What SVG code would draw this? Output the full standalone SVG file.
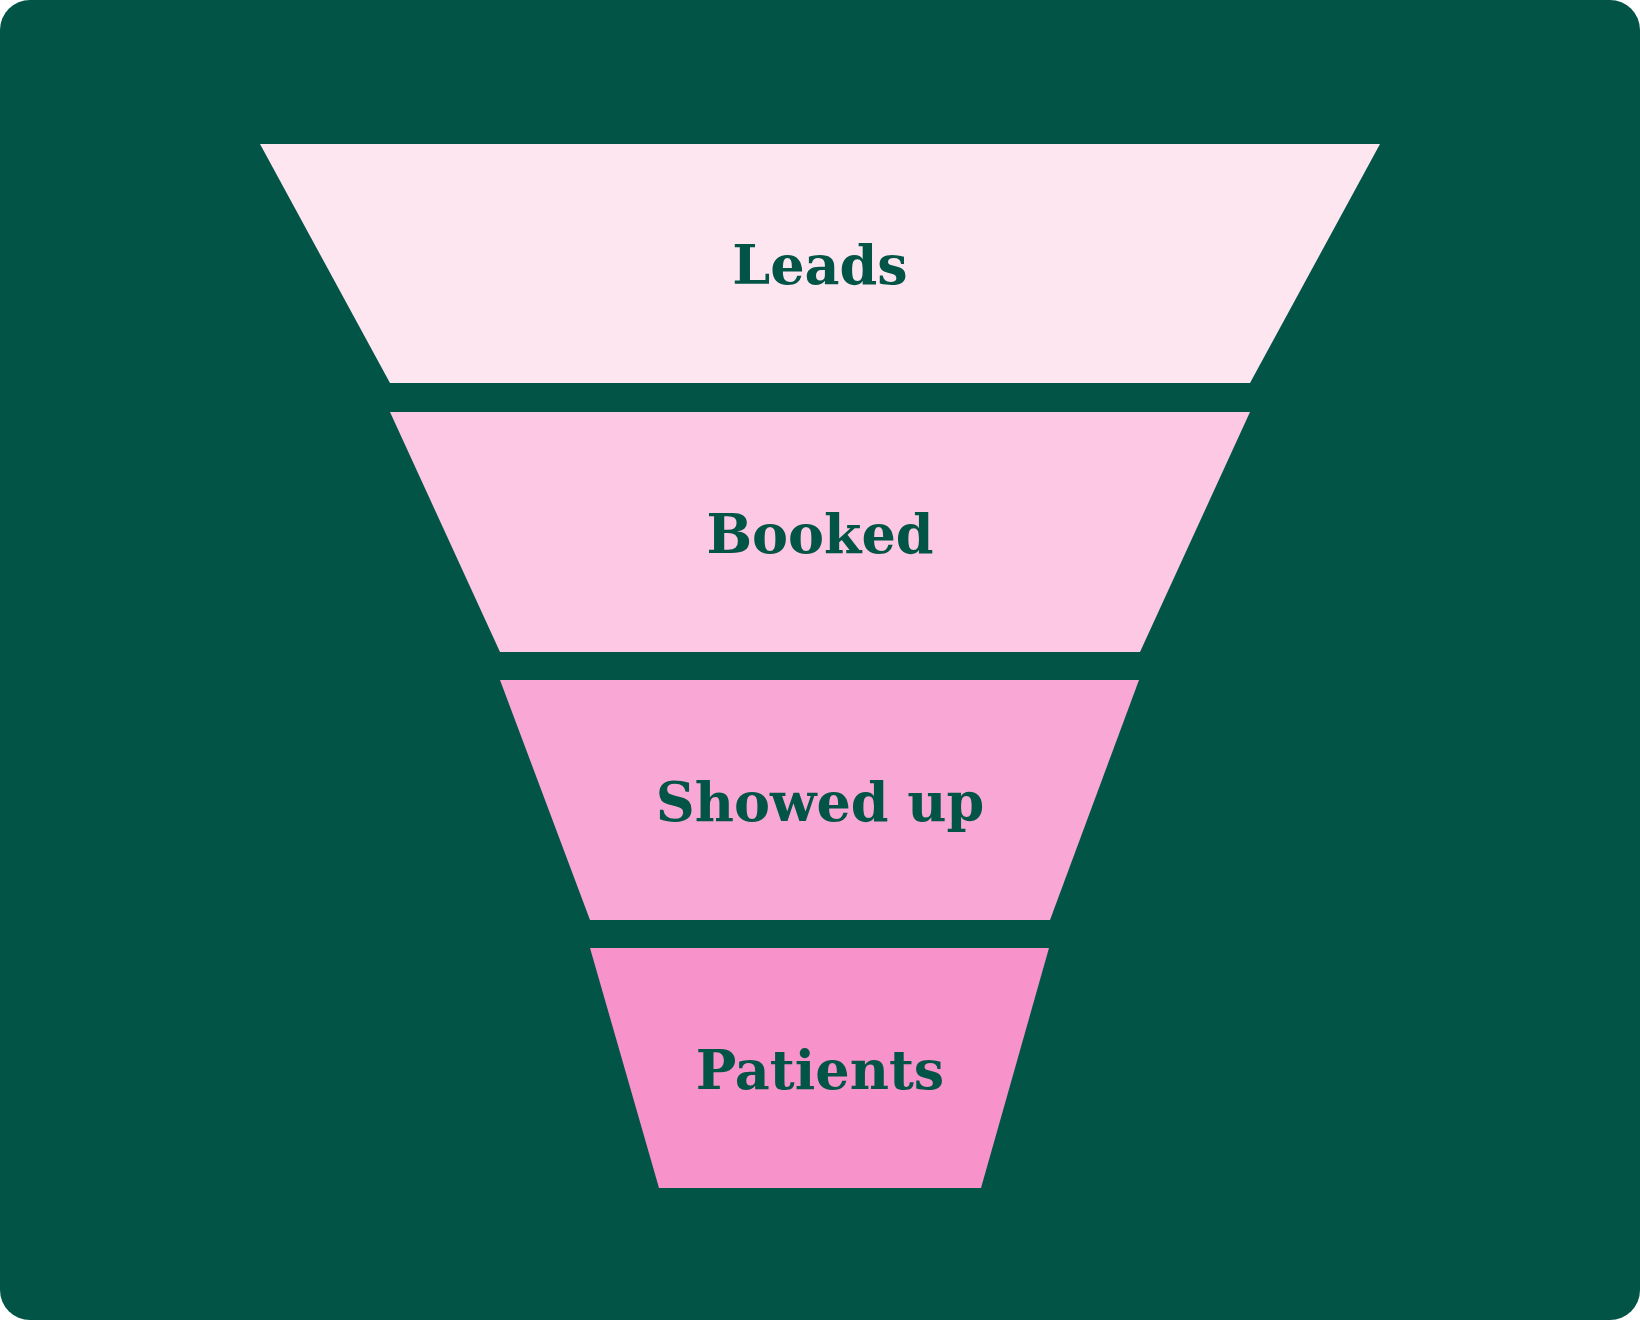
<svg xmlns="http://www.w3.org/2000/svg" width="1640" height="1320" viewBox="0 0 1640 1320">
<style>
.lbl{font-family:"DejaVu Serif","Liberation Serif",serif;font-weight:bold;font-size:54px;fill:#025446;text-anchor:middle;dominant-baseline:central}
</style>
<rect x="0" y="0" width="1640" height="1320" rx="30" fill="#025446"/>
<g id="leads"><polygon points="260,144 1380,144 1250,383 390,383" fill="#FEE6F1"/><text class="lbl" x="820" y="265">Leads</text></g>
<g id="booked"><polygon points="390,412 1250,412 1140,652 500,652" fill="#FCC8E4"/><text class="lbl" x="820" y="534">Booked</text></g>
<g id="showed"><polygon points="500,680 1139,680 1050,920 590,920" fill="#F9A8D6"/><text class="lbl" x="820" y="802">Showed up</text></g>
<g id="patients"><polygon points="590,948 1049,948 981,1188 659,1188" fill="#F792CA"/><text class="lbl" x="820" y="1070">Patients</text></g>
<g id="connectors"/>
</svg>
